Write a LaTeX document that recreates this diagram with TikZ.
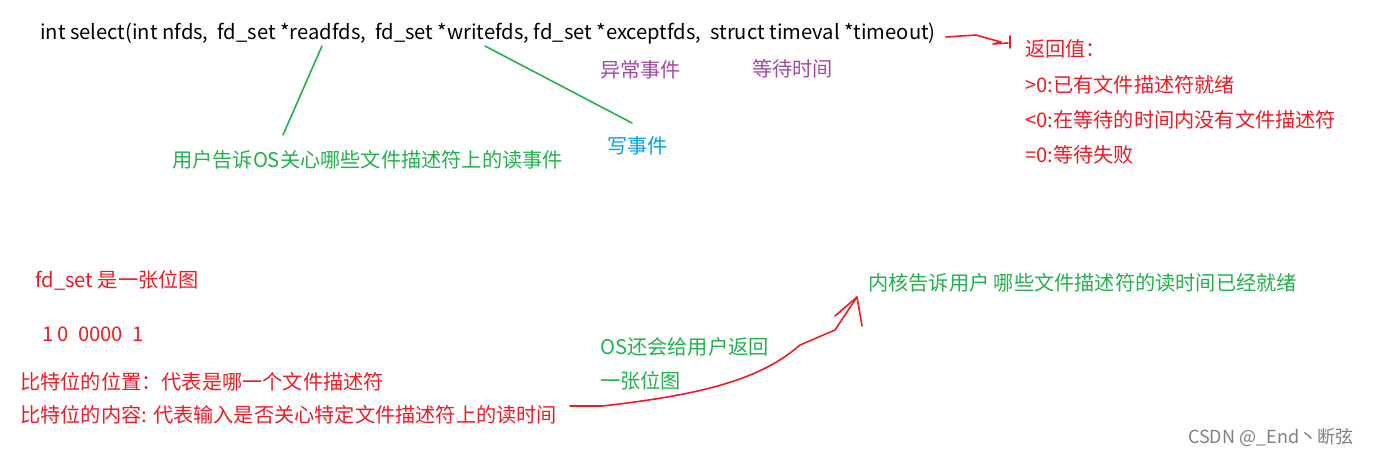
\documentclass[tikz,border=0pt]{standalone}
\usepackage{fontspec}
\setmainfont{Noto Sans CJK SC}
\definecolor{gr}{RGB}{34,177,76}
\definecolor{rd}{RGB}{237,28,36}
\definecolor{pu}{RGB}{163,73,164}
\definecolor{bl}{RGB}{0,162,232}
\begin{document}
\begin{tikzpicture}[x=1pt,y=-1pt,
  t/.style={anchor=west,inner sep=0pt,font=\fontsize{20.2}{24}\selectfont},
  pen/.style={line width=1.6pt,line cap=round,line join=round}]
\useasboundingbox (0,0) rectangle (1378,456);
\node[t] (sig) at (40,34) {int select(int nfds,\ \ fd\_set *readfds,\ \ fd\_set *writefds, fd\_set *exceptfds,\ \ struct timeval *timeout)};
\node[t,pu] (exc) at (600,70) {异常事件};
\node[t,pu] (wt) at (752,69) {等待时间};
\node[t,rd] (r0) at (1025,49) {返回值：};
\node[t,rd] (r1) at (1025,85) {>0:已有文件描述符就绪};
\node[t,rd] (r2) at (1025,120) {<0:在等待的时间内没有文件描述符};
\node[t,rd] (r3) at (1025,155) {=0:等待失败};
\node[t,gr] (rd) at (172,160) {用户告诉OS关心哪些文件描述符上的读事件};
\node[t,bl] (wr) at (607,146) {写事件};
\coordinate (a1) at (322,46); \coordinate (b1) at (283,135);
\coordinate (a2) at (485,46); \coordinate (b2) at (632,123);
\draw[gr,pen] (a1) -- (b1);
\draw[gr,pen] (a2) -- (b2);
\coordinate (s0) at (946,37);
\draw[rd,pen] (s0) -- (976,35) -- (990,39) -- (1001,42) -- (993,44) -- (1008,43);
\draw[rd,pen] (1010,36) -- (1010,48);
\node[t,rd] (fd) at (35,280) {fd\_set 是一张位图};
\node[t,rd] (bits) at (42,334) {1 0\ \ 0000\ \ 1};
\node[t,rd] (p1) at (20,382) {比特位的位置：代表是哪一个文件描述符};
\node[t,rd] (p2) at (20,415) {比特位的内容: 代表输入是否关心特定文件描述符上的读时间};
\node[t,gr] (kn) at (868,283) {内核告诉用户 哪些文件描述符的读时间已经就绪};
\node[t,gr] (os1) at (600,347) {OS还会给用户返回};
\node[t,gr] (os2) at (600,381) {一张位图};
\coordinate (c0) at (570,406);
\coordinate (c1) at (857,297);
\draw[rd,pen] (c0) -- (602,406) .. controls (700,395) and (760,380) .. (800,345) -- (835,330) -- (c1);
\draw[rd,pen] (835,316) -- (c1) -- (862,326);
\node[t,gray,font=\fontsize{18}{20}\selectfont] (cs) at (1188,437) {CSDN @\_End丶断弦};
\end{tikzpicture}
\end{document}
